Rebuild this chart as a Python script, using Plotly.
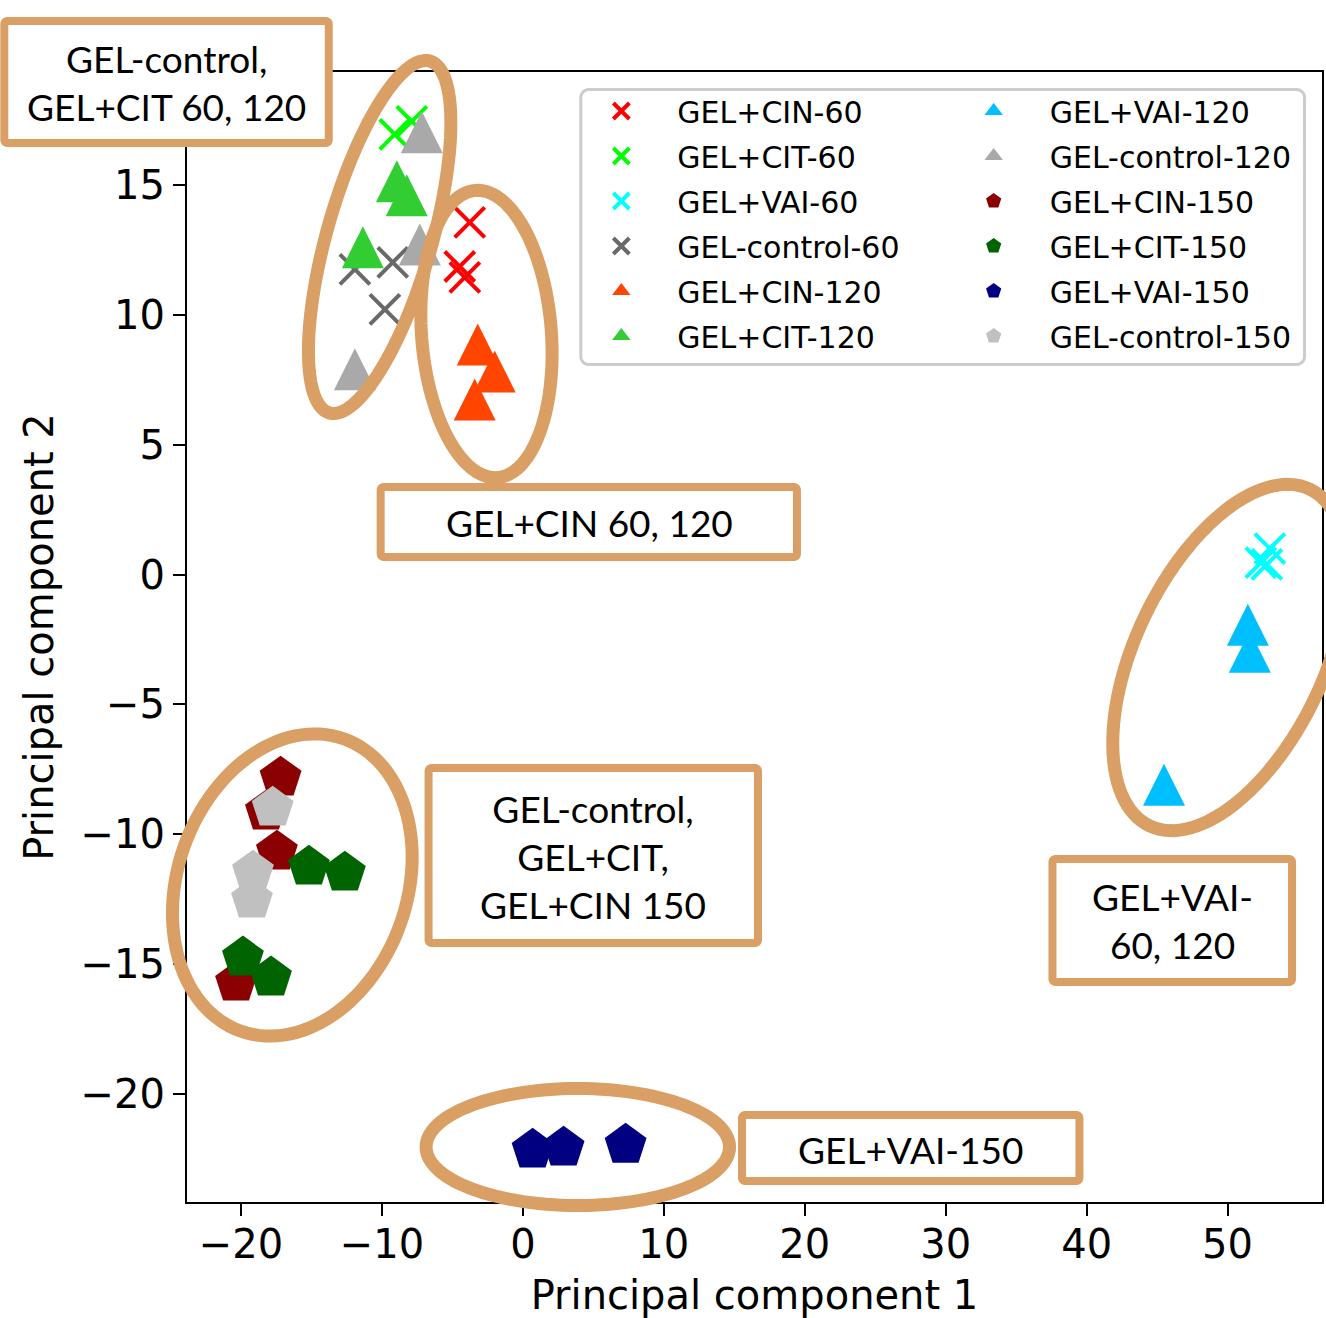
import math
import plotly.graph_objects as go

# ---------------- data ----------------
series_names = ["GEL+CIN-60", "GEL+CIT-60", "GEL+VAI-60", "GEL-control-60",
                "GEL+CIN-120", "GEL+CIT-120", "GEL+VAI-120", "GEL-control-120",
                "GEL+CIN-150", "GEL+CIT-150", "GEL+VAI-150", "GEL-control-150"]

cin60_x = [-3.77, -4.48, -4.12]
cin60_y = [13.56, 11.86, 11.44]
cit60_x = [-9.09, -7.88]
cit60_y = [16.95, 17.45]
vai60_x = [53.0, 52.79, 52.36]
vai60_y = [1.0, 0.39, 0.46]
ctl60_x = [-11.92, -9.23, -9.79]
ctl60_y = [11.75, 12.02, 10.21]

cin120_x = [-3.2, -2.0, -3.42]
cin120_y = [8.86, 7.82, 6.74]
cit120_x = [-8.94, -8.24, -11.35]
cit120_y = [15.14, 14.6, 12.6]
vai120_x = [51.44, 51.58, 45.49]
vai120_y = [-1.93, -2.97, -8.09]
ctl120_x = [-7.17, -7.31, -11.92]
ctl120_y = [17.03, 12.71, 7.9]

cin150_x = [-17.19, -18.23, -17.45, -20.35]
cin150_y = [-7.82, -9.13, -10.67, -15.72]
cit150_x = [-15.18, -12.63, -19.86, -17.87]
cit150_y = [-11.25, -11.48, -14.75, -15.52]
vai150_x = [0.69, 2.89, 7.29]
vai150_y = [-22.15, -22.07, -21.96]
ctl150_x = [-17.75, -19.15, -19.22]
ctl150_y = [-8.98, -11.44, -12.52]

x_ticks = [-20, -10, 0, 10, 20, 30, 40, 50]
y_ticks = [-20, -15, -10, -5, 0, 5, 10, 15]

group_labels = ["GEL-control,<br>GEL+CIT 60, 120", "GEL+CIN 60, 120",
                "GEL-control,<br>GEL+CIT,<br>GEL+CIN 150", "GEL+VAI-<br>60, 120",
                "GEL+VAI-150"]

# ---------------- styling ----------------
xs = [cin60_x, cit60_x, vai60_x, ctl60_x, cin120_x, cit120_x, vai120_x, ctl120_x,
      cin150_x, cit150_x, vai150_x, ctl150_x]
ys = [cin60_y, cit60_y, vai60_y, ctl60_y, cin120_y, cit120_y, vai120_y, ctl120_y,
      cin150_y, cit150_y, vai150_y, ctl150_y]
colors = ["#FF0000", "#00FF00", "#00FFFF", "#696969",
          "#FF4500", "#32CD32", "#00BFFF", "#A9A9A9",
          "#8B0000", "#006400", "#000080", "#C0C0C0"]
kinds = ["x"] * 4 + ["tri"] * 4 + ["pent"] * 4

W, H = 1326, 1318
L, R, T, B = 187, 1324, 72, 1202
TAN = "#D99F65"


def p2(px, py):
    return (px - L) / (R - L), (B - py) / (B - T)


def ellipse_path(cx, cy, a, b, theta_deg, n=120):
    th = math.radians(theta_deg)
    ux, uy = math.sin(th), -math.cos(th)
    vx, vy = math.cos(th), math.sin(th)
    pts = []
    for i in range(n):
        t = 2 * math.pi * i / n
        px = cx + a * math.cos(t) * ux + b * math.sin(t) * vx
        py = cy + a * math.cos(t) * uy + b * math.sin(t) * vy
        pts.append(p2(px, py))
    return "M " + " L ".join(f"{x:.5f},{y:.5f}" for x, y in pts) + " Z"


def rrect_path(x0, y0, x1, y1, r, n=6):
    pts = []
    corners = [(x1 - r, y0 + r, -90), (x1 - r, y1 - r, 0), (x0 + r, y1 - r, 90), (x0 + r, y0 + r, 180)]
    for cx, cy, a0 in corners:
        for k in range(n + 1):
            a = math.radians(a0 + 90 * k / n)
            pts.append(p2(cx + r * math.cos(a), cy + r * math.sin(a)))
    return "M " + " L ".join(f"{x:.5f},{y:.5f}" for x, y in pts) + " Z"


TRI_SIZE = 42
fig = go.Figure()
for i, name in enumerate(series_names):
    k = kinds[i]
    leg = "legend" if i < 6 else "legend2"
    if k == "x":
        marker = dict(symbol="x-thin-open", size=30, color=colors[i], line=dict(color=colors[i], width=4))
    elif k == "tri":
        # square-proportioned upward triangle centred on the point (matplotlib '^' look)
        marker = dict(symbol="arrow-down", size=TRI_SIZE, angle=180, standoff=TRI_SIZE / 2,
                      color=colors[i], line=dict(width=0))
    else:
        marker = dict(symbol="pentagon", size=44, color=colors[i], line=dict(width=0))
    fig.add_trace(go.Scatter(
        x=xs[i], y=ys[i], mode="markers", name=name, marker=marker,
        legend=leg, legendgroup=name, legendrank=i, showlegend=(k != "tri"),
        cliponaxis=False,
    ))
    if k == "tri":
        # legend entry with a plain triangle symbol (no standoff offset in the legend)
        fig.add_trace(go.Scatter(
            x=[None], y=[None], mode="markers", name=name,
            marker=dict(symbol="triangle-up", size=TRI_SIZE, color=colors[i], line=dict(width=0)),
            legend=leg, legendgroup=name, legendrank=i, showlegend=True, hoverinfo="skip",
        ))

shapes = []
# ellipses
for (cx, cy, a, b, th) in [(380, 237, 183, 52.5, 16), (487, 334, 144, 65, -4.4),
                           (292.5, 885, 155, 115, 19.4), (578.5, 1147, 152, 58.5, 90),
                           (1231.5, 657.5, 186.5, 94.5, 25.5)]:
    shapes.append(dict(type="path", xref="paper", yref="paper", path=ellipse_path(cx, cy, a, b, th),
                       line=dict(color=TAN, width=13), fillcolor="rgba(0,0,0,0)", layer="above"))
# label boxes
boxes = [(4, 21, 329, 143), (381, 487, 798, 557), (429, 768, 759, 943),
         (1054, 859, 1294, 982), (743, 1115, 1081, 1181)]
for (x0, y0, x1, y1) in boxes:
    shapes.append(dict(type="path", xref="paper", yref="paper", path=rrect_path(x0, y0, x1, y1, 3),
                       line=dict(color=TAN, width=8), fillcolor="white", layer="above"))
# legend frame
shapes.append(dict(type="path", xref="paper", yref="paper", path=rrect_path(581.5, 89.5, 1306.5, 364.5, 8),
                   line=dict(color="#CCCCCC", width=3), fillcolor="white", layer="above"))

annotations = []
centers = [(166, 82), (590, 522), (594, 856), (1174, 920), (912, 1149)]
for txt, (cx, cy) in zip(group_labels, centers):
    ax, ay = p2(cx, cy)
    annotations.append(dict(text=txt, x=ax, y=ay, xref="paper", yref="paper", showarrow=False,
                            xanchor="center", yanchor="middle", align="center",
                            font=dict(family="Lato", size=37, color="black")))

axis_common = dict(showgrid=False, zeroline=False, showline=True, linecolor="black", linewidth=2,
                   mirror=True, ticks="outside", ticklen=12, tickwidth=2, tickcolor="black",
                   tickfont=dict(family="DejaVu Sans", size=40, color="black"))

leg_common = dict(font=dict(family="DejaVu Sans", size=30, color="black"), bgcolor="rgba(0,0,0,0)",
                  borderwidth=0, itemwidth=102, tracegroupgap=3, xanchor="left", yanchor="top",
                  itemclick=False, itemdoubleclick=False)

fig.update_layout(
    width=W, height=H,
    margin=dict(l=L, r=W - R, t=T, b=H - B, pad=0),
    paper_bgcolor="white", plot_bgcolor="white",
    xaxis=dict(range=[-23.83, 56.7], tickvals=x_ticks, ticklabelstandoff=-6,
               title=dict(text="Principal component 1", font=dict(family="DejaVu Sans", size=40, color="black"),
                          standoff=16),
               **axis_common),
    yaxis=dict(range=[-24.16, 19.35], tickvals=y_ticks,
               title=dict(text="Principal component 2", font=dict(family="DejaVu Sans", size=40, color="black"),
                          standoff=15),
               **axis_common),
    legend=dict(x=(566 - L) / (R - L), y=p2(0, 85)[1], **leg_common),
    legend2=dict(x=(939 - L) / (R - L), y=p2(0, 85)[1], **leg_common),
    shapes=shapes,
    annotations=annotations,
    showlegend=True,
)

fig.write_html("out.html", config={"displayModeBar": False},
               post_script="document.body.style.margin='0';")
